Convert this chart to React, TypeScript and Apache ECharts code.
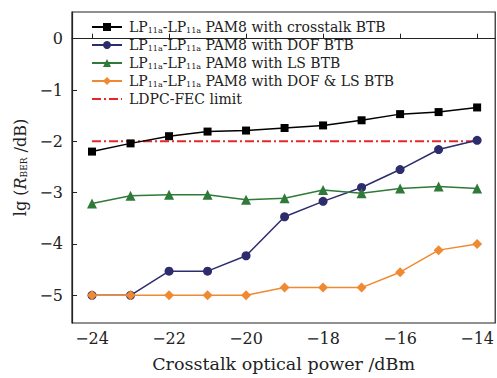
import React, { useEffect, useRef } from "react";
import * as echarts from "echarts";

const xValues = [-24, -23, -22, -21, -20, -19, -18, -17, -16, -15, -14];
const crosstalk = [-2.2, -2.04, -1.9, -1.81, -1.79, -1.74, -1.69, -1.59, -1.47, -1.43, -1.34];
const dof = [-5.0, -5.0, -4.53, -4.53, -4.23, -3.47, -3.17, -2.9, -2.55, -2.16, -1.98];
const ls = [-3.21, -3.06, -3.04, -3.04, -3.14, -3.11, -2.95, -3.01, -2.92, -2.88, -2.92];
const dofLs = [-5.0, -5.0, -5.0, -5.0, -5.0, -4.85, -4.85, -4.85, -4.55, -4.12, -4.0];
const fecLimit = [-2.0, -2.0];
const fecX = [-24, -14];
const xTicks = [-24, -22, -20, -18, -16, -14];
const yTicks = [-5, -4, -3, -2, -1, 0];

const names = [
  "LP11a-LP11a PAM8 with crosstalk BTB",
  "LP11a-LP11a PAM8 with DOF BTB",
  "LP11a-LP11a PAM8 with LS BTB",
  "LP11a-LP11a PAM8 with DOF & LS BTB",
  "LDPC-FEC limit",
];

const FONT = "DejaVu Serif";
const minus = (v: number) => String(v).replace("-", "\u2212");

export default function App() {
  const ref = useRef<HTMLDivElement>(null);
  useEffect(() => {
    if (!ref.current) return;
    const chart = echarts.init(ref.current, undefined, { renderer: "svg" });
    const pair = (ys: number[]) => xValues.map((x, i) => [x, ys[i]]);
    const mk = (name: string, data: number[], color: string, symbol: string, size: number, z: number) => ({
      name,
      type: "line",
      data: pair(data),
      symbol,
      symbolSize: size,
      lineStyle: { color, width: 1.5 },
      itemStyle: { color },
      z,
    });
    chart.setOption({
      animation: false,
      textStyle: { fontFamily: FONT },
      grid: {
        left: 72,
        right: 1,
        top: 12,
        bottom: 50,
        show: true,
        borderColor: "#222",
        borderWidth: 1.2,
      },
      legend: {
        orient: "vertical",
        left: 86,
        top: 15,
        itemWidth: 30,
        itemHeight: 10,
        itemGap: 4,
        data: names.map((n, i) => (i === 4 ? { name: n, itemStyle: { opacity: 0 } } : { name: n })),
        formatter: (n: string) => n.replace(/LP11a/g, "LP{sub|11a}"),
        textStyle: {
          fontFamily: FONT,
          fontSize: 14,
          color: "#222",
          padding: [0, 0, 0, 2],
          rich: {
            sub: { fontFamily: FONT, fontSize: 8, verticalAlign: "bottom", padding: [6, 0, 0, 0], color: "#222" },
          },
        },
      },
      xAxis: {
        type: "value",
        min: -24.52,
        max: -13.53,
        name: "Crosstalk optical power /dBm",
        nameLocation: "middle",
        nameGap: 32,
        nameTextStyle: { fontFamily: FONT, fontSize: 17.5, color: "#222" },
        splitLine: { show: false },
        axisLine: { show: true, lineStyle: { color: "#222", width: 1.2 } },
        axisTick: { show: true, inside: true, length: 5, lineStyle: { color: "#222" }, customValues: xTicks },
        axisLabel: {
          fontFamily: FONT,
          fontSize: 16,
          color: "#222",
          margin: 7,
          customValues: xTicks,
          formatter: (v: number) => minus(v),
        },
      },
      yAxis: {
        type: "value",
        min: -5.54,
        max: 0.52,
        name: "lg ({i|R}{s|BER} /dB)",
        nameLocation: "middle",
        nameGap: 40,
        nameRotate: 90,
        nameTextStyle: {
          fontFamily: FONT,
          fontSize: 16,
          color: "#222",
          rich: {
            i: { fontFamily: FONT, fontSize: 16, fontStyle: "italic", color: "#222" },
            s: { fontFamily: FONT, fontSize: 9, color: "#222", verticalAlign: "bottom", padding: [7, 0, 0, 0] },
          },
        },
        splitLine: { show: false },
        axisLine: { show: true, lineStyle: { color: "#222", width: 1.2 } },
        axisTick: { show: true, inside: true, length: 5, lineStyle: { color: "#222" }, customValues: yTicks },
        axisLabel: {
          fontFamily: FONT,
          fontSize: 16,
          color: "#222",
          margin: 9,
          customValues: yTicks,
          formatter: (v: number) => minus(v),
        },
      },
      series: [
        mk(names[0], crosstalk, "#000000", "rect", 8, 3),
        mk(names[1], dof, "#2d2c6c", "circle", 9, 3),
        mk(names[2], ls, "#2f7a38", "triangle", 10, 3),
        mk(names[3], dofLs, "#f08a32", "diamond", 10, 4),
        {
          name: names[4],
          type: "line",
          data: fecX.map((x, i) => [x, fecLimit[i]]),
          symbol: "none",
          lineStyle: { color: "#e8262a", width: 2, type: [9, 3, 2, 3] },
          itemStyle: { color: "#e8262a" },
          z: 2,
        },
      ],
    });
    return () => chart.dispose();
  }, []);
  return (
    <div
      ref={ref}
      style={{ position: "absolute", left: 0, top: 0, width: 497, height: 378 }}
    />
  );
}
